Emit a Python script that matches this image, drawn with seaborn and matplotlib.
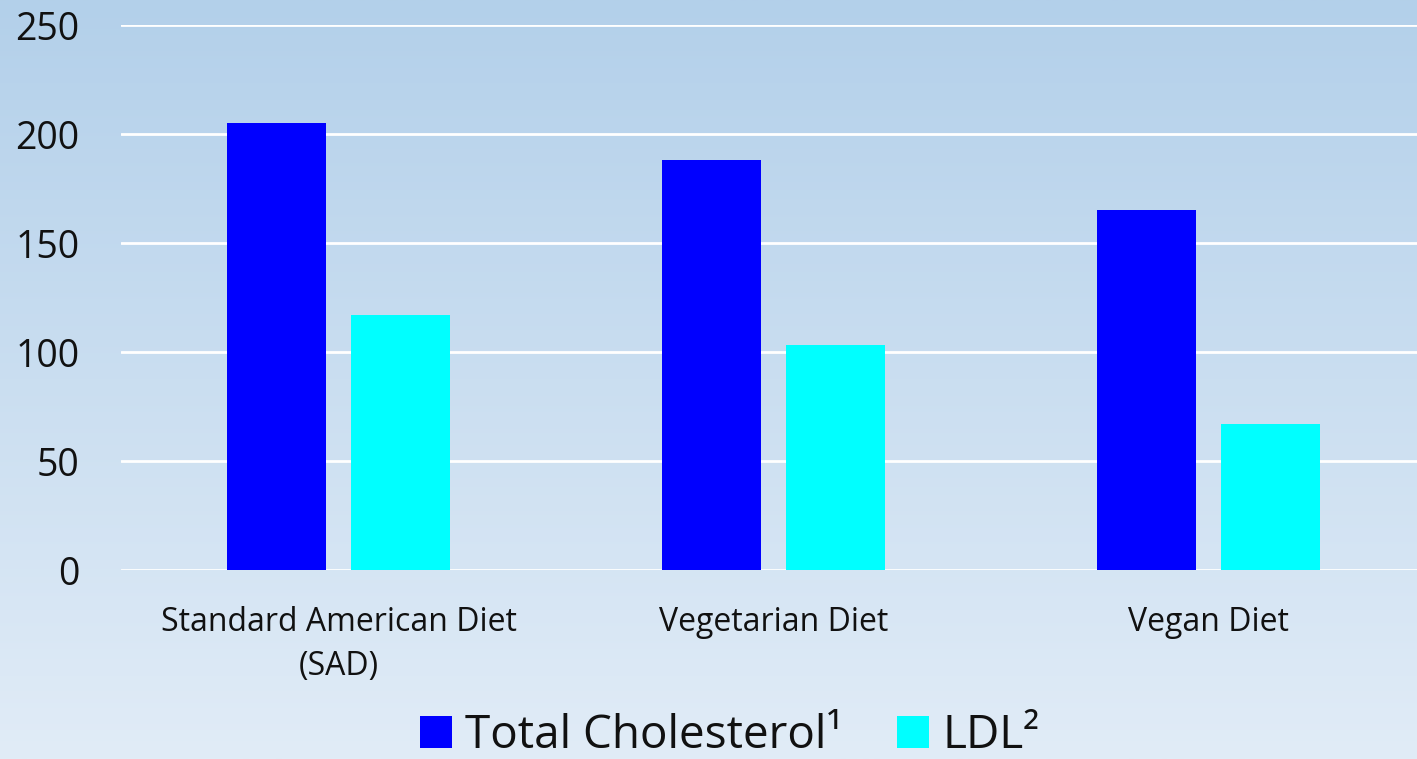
import numpy as np
import pandas as pd
import matplotlib
matplotlib.use("Agg")
import matplotlib.pyplot as plt
import seaborn as sns
from matplotlib.colors import LinearSegmentedColormap

diets = ["Standard American Diet\n(SAD)", "Vegetarian Diet", "Vegan Diet"]
total_cholesterol = [205, 188, 165]
ldl = [117, 103, 67]
series_names = ["Total Cholesterol\u00b9", "LDL\u00b2"]
y_ticks = [0, 50, 100, 150, 200, 250]

df = pd.DataFrame({
    "diet": diets * 2,
    "value": total_cholesterol + ldl,
    "series": [series_names[0]] * 3 + [series_names[1]] * 3,
})

sns.set_theme(style="white")
plt.rcParams["font.family"] = ["Open Sans", "DejaVu Sans"]

fig = plt.figure(figsize=(14.17, 7.59), dpi=100)

# vertical background gradient
bg = fig.add_axes([0, 0, 1, 1], zorder=0)
grad = np.linspace(0, 1, 256).reshape(-1, 1)
cmap = LinearSegmentedColormap.from_list("bg", ["#b3d0ea", "#e1ecf7"])
bg.imshow(grad, aspect="auto", cmap=cmap, extent=[0, 1, 0, 1], origin="upper")
bg.axis("off")

# plot area runs slightly past the right edge of the figure
ax = fig.add_axes([0.0854, 0.249, 0.921, 0.718], zorder=1)
ax.patch.set_alpha(0)

sns.barplot(data=df, x="diet", y="value", hue="series",
            palette=["#0000ff", "#00ffff"], width=0.51 * 1.115, gap=0.2,
            saturation=1, linewidth=0, ax=ax, zorder=3)

ax.set_xlim(-0.5, 2.5)
ax.set_ylim(0, 250)
ax.set_yticks(y_ticks)
ax.set_yticklabels([str(t) for t in y_ticks], fontsize=27, color="#111111")
ax.tick_params(axis="y", length=0, pad=30)
ax.tick_params(axis="x", length=0, pad=26, labelsize=23, labelcolor="#111111")
for lbl in ax.get_xticklabels():
    lbl.set_linespacing(1.45)
ax.set_xlabel("")
ax.set_ylabel("")
ax.yaxis.grid(True, color="white", linewidth=2, zorder=0)
ax.set_axisbelow(True)
for s in ax.spines.values():
    s.set_visible(False)

handles, labels = ax.get_legend_handles_labels()
ax.get_legend().remove()
leg = fig.legend(handles, labels, loc="lower center",
                 bbox_to_anchor=(0.515, -0.024),
                 ncol=2, frameon=False, fontsize=33, handlelength=0.7,
                 handleheight=0.7, handletextpad=0.28, columnspacing=1.2,
                 borderaxespad=0)
for t in leg.get_texts():
    t.set_color("#111111")

fig.savefig("out.png", dpi=100)
